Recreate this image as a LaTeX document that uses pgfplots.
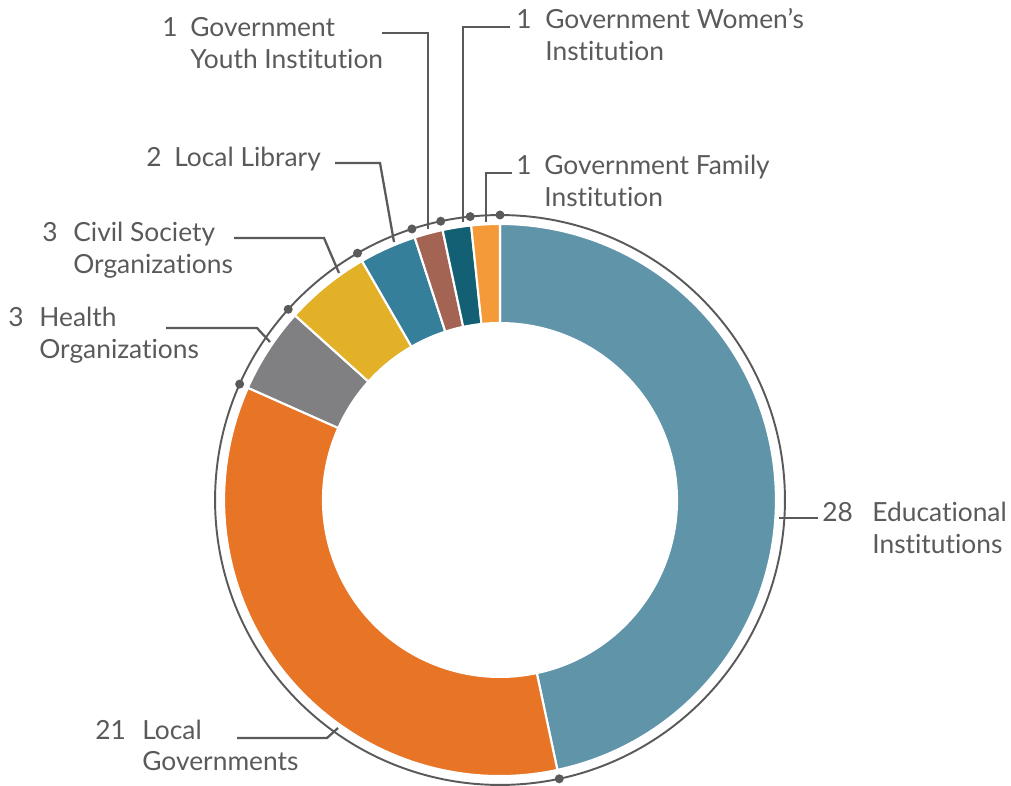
\documentclass[border=0pt]{standalone}
\usepackage{pgfplots}
\pgfplotsset{compat=1.18}
\usepackage{pgfplotstable}
\usepackage{fontspec}
\setmainfont{Lato}[Ligatures={NoCommon}]

% slice colours, in table order
\definecolor{slice0}{HTML}{6094A9}
\definecolor{slice1}{HTML}{E87425}
\definecolor{slice2}{HTML}{808083}
\definecolor{slice3}{HTML}{E2B128}
\definecolor{slice4}{HTML}{367F9A}
\definecolor{slice5}{HTML}{A46454}
\definecolor{slice6}{HTML}{135F73}
\definecolor{slice7}{HTML}{F59A38}
\definecolor{ink}{HTML}{5A5A5A}

% Educational, Local Gov, Health, Civil Society, Library, Youth, Women, Family
\pgfplotstableread{
value
28
21
3
3
2
1
1
1
}\donutdata

\pgfplotstablegetrowsof{\donutdata}
\pgfmathtruncatemacro\nlast{\pgfplotsretval-1}
\gdef\dtotal{0}
\foreach \i in {0,...,\nlast}{%
  \pgfplotstablegetelem{\i}{value}\of\donutdata
  \pgfmathsetmacro\tmp{\dtotal+\pgfplotsretval}%
  \xdef\dtotal{\tmp}%
}
% start / end angle of every slice, clockwise from the top
\gdef\dcum{0}
\foreach \i in {0,...,\nlast}{%
  \pgfplotstablegetelem{\i}{value}\of\donutdata
  \pgfmathsetmacro\sa{90-360*(\dcum/\dtotal)}%
  \pgfmathsetmacro\tmp{\dcum+\pgfplotsretval}%
  \xdef\dcum{\tmp}%
  \pgfmathsetmacro\ea{90-360*(\dcum/\dtotal)}%
  \expandafter\xdef\csname sa\i\endcsname{\sa}%
  \expandafter\xdef\csname ea\i\endcsname{\ea}%
}

\newcommand{\lbl}[1]{\begin{tabular}[t]{@{}l@{}}#1\end{tabular}}

\begin{document}
\begin{tikzpicture}[font=\fontsize{15}{17.9}\selectfont]
\begin{axis}[
    x=0.02cm, y=0.02cm,
    xmin=0, xmax=1011, ymin=0, ymax=786,
    y dir=reverse,
    hide axis,
    clip=false,
]
% ring slices
\pgfplotsinvokeforeach{0,...,7}{%
  \edef\temp{\noexpand\fill[slice#1, draw=white, line width=1.2pt]
    (axis cs:{500+276*cos(\csname sa#1\endcsname)},{500-276*sin(\csname sa#1\endcsname)})
    arc[start angle=\csname sa#1\endcsname, end angle=\csname ea#1\endcsname, radius=5.52cm]
    -- (axis cs:{500+177*cos(\csname ea#1\endcsname)},{500-177*sin(\csname ea#1\endcsname)})
    arc[start angle=\csname ea#1\endcsname, end angle=\csname sa#1\endcsname, radius=3.54cm]
    -- cycle;}%
  \temp
}
% outer guide circle and boundary dots
\draw[ink, line width=1.1pt] (axis cs:500,500) circle[radius=5.7cm];
\pgfplotsinvokeforeach{0,...,7}{%
  \edef\temp{\noexpand\fill[ink]
    (axis cs:{500+285*cos(\csname ea#1\endcsname)},{500-285*sin(\csname ea#1\endcsname)})
    circle[radius=0.09cm];}%
  \temp
}
% leader lines
\begin{scope}[ink, line width=1.3pt]
\draw (axis cs:779,518) -- (axis cs:818,518);
\draw (axis cs:237,738) -- (axis cs:327,738) -- (axis cs:338,728);
\draw (axis cs:166,328) -- (axis cs:257,328) -- (axis cs:270,342);
\draw (axis cs:234,238) -- (axis cs:324,238) -- (axis cs:339,273);
\draw (axis cs:335,163) -- (axis cs:380,163) -- (axis cs:394,242);
\draw (axis cs:382,33) -- (axis cs:428,33) -- (axis cs:428,229);
\draw (axis cs:510,27) -- (axis cs:463,27) -- (axis cs:463,222);
\draw (axis cs:512,173) -- (axis cs:486,173) -- (axis cs:486,222);
\end{scope}
% labels
\begin{scope}[every node/.style={ink, inner sep=0pt, anchor=base west}]
\node at (axis cs:822,522) {28};
\node at (axis cs:872,522) {\lbl{Educational\\Institutions}};
\node at (axis cs:95,739) {21};
\node at (axis cs:142,739) {\lbl{Local\\Governments}};
\node at (axis cs:8,327) {3};
\node at (axis cs:39,327) {\lbl{Health\\Organizations}};
\node at (axis cs:42,242) {3};
\node at (axis cs:73,242) {\lbl{Civil Society\\Organizations}};
\node at (axis cs:146,167) {2};
\node at (axis cs:174,167) {Local Library};
\node at (axis cs:162,37) {1};
\node at (axis cs:190,37) {\lbl{Government\\Youth Institution}};
\node at (axis cs:516,29) {1};
\node at (axis cs:545,29) {\lbl{Government Women\symbol{39}s\\Institution}};
\node at (axis cs:516,175) {1};
\node at (axis cs:544,175) {\lbl{Government Family\\Institution}};
\end{scope}
\end{axis}
\pgfresetboundingbox
\path (current axis.south west) rectangle (current axis.north east);
\end{tikzpicture}
\end{document}
